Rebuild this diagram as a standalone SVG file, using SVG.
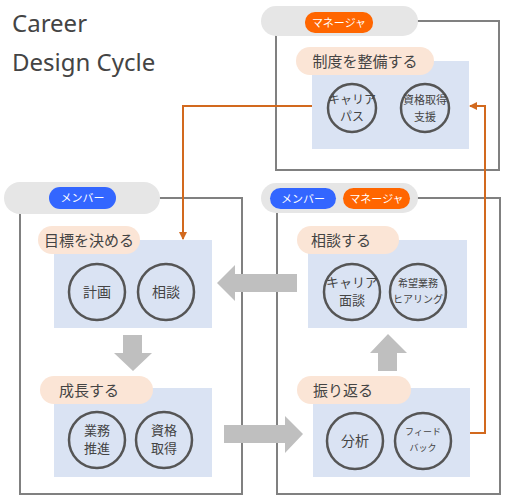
<svg xmlns="http://www.w3.org/2000/svg" width="506" height="500" viewBox="0 0 506 500">
<style>
text{font-family:"Noto Sans","Noto Sans CJK JP",sans-serif;fill:#444;text-anchor:middle}
.frame{fill:none;stroke:#808080;stroke-width:2}
.pill{fill:#e6e6e6}
.bo{fill:#ff6600}
.bb{fill:#3366ff}
.badge{fill:#fff;font-size:11px}
.panel{fill:#dae3f3}
.lab{fill:#fbe5d6}
.labt{font-size:15px}
.c{fill:none;stroke:#555;stroke-width:2.5}
.ct{font-size:14px}
.gar{fill:#bfbfbf}
.con{fill:none;stroke:#d2691e;stroke-width:2}
</style>
<defs>
<marker id="ah" markerWidth="8" markerHeight="8" refX="7" refY="4" orient="auto" markerUnits="userSpaceOnUse">
<path d="M0,0 L8,4 L0,8 z" fill="#d2691e"/>
</marker>
</defs>
<g id="title">
<text x="12" y="32" style="text-anchor:start;font-size:24px;fill:#444">Career</text>
<text x="12" y="71" style="text-anchor:start;font-size:24px;fill:#444">Design Cycle</text>
</g>
<g id="manager-box">
<path class="frame" d="M400,21 H499 V170 H276 V30"/>
<rect class="pill" x="261" y="6" width="157" height="30" rx="15"/>
<rect class="bo" x="305" y="12" width="68" height="21" rx="10"/>
<text class="badge" x="339" y="26.5">マネージャ</text>
</g>
<g id="member-box">
<path class="frame" d="M150,198 H242 V494 H20 V205"/>
<rect class="pill" x="4" y="182" width="156" height="32" rx="16"/>
<rect class="bb" x="49" y="187" width="67" height="22" rx="11"/>
<text class="badge" x="82.5" y="202">メンバー</text>
</g>
<g id="both-box">
<path class="frame" d="M400,198 H500 V494 H277 V205"/>
<rect class="pill" x="261" y="183" width="157" height="30" rx="15"/>
<rect class="bb" x="270" y="188" width="66" height="21" rx="10.5"/>
<text class="badge" x="303" y="202.5">メンバー</text>
<rect class="bo" x="343" y="188" width="67" height="21" rx="10.5"/>
<text class="badge" x="376.5" y="202.5">マネージャ</text>
</g>
<g id="seido">
<rect class="panel" x="312" y="61" width="157" height="88"/>
<rect class="lab" x="296" y="47" width="138" height="28" rx="14"/>
<text class="labt" x="365" y="66.5">制度を整備する</text>
<circle class="c" cx="352" cy="108" r="24"/>
<text x="352" y="104" style="font-size:12px">キャリア</text>
<text x="352" y="121" style="font-size:12px">パス</text>
<circle class="c" cx="425" cy="108" r="24"/>
<text x="425" y="104" style="font-size:11px">資格取得</text>
<text x="425" y="121" style="font-size:11px">支援</text>
</g>
<g id="mokuhyo">
<rect class="panel" x="54" y="240" width="158" height="88"/>
<rect class="lab" x="38" y="226" width="102" height="28" rx="14"/>
<text class="labt" x="89" y="245.5">目標を決める</text>
<circle class="c" cx="97" cy="292" r="28"/>
<text class="ct" x="97" y="297">計画</text>
<circle class="c" cx="166" cy="292" r="28"/>
<text class="ct" x="166" y="297">相談</text>
</g>
<g id="sodan">
<rect class="panel" x="308" y="240" width="159" height="88"/>
<rect class="lab" x="297" y="226" width="102" height="28" rx="14"/>
<text class="labt" x="341" y="245.5">相談する</text>
<circle class="c" cx="352" cy="292" r="28"/>
<text x="352" y="287" style="font-size:13px">キャリア</text>
<text x="352" y="305" style="font-size:13px">面談</text>
<circle class="c" cx="418" cy="292" r="28"/>
<text x="418" y="287" style="font-size:10px">希望業務</text>
<text x="418" y="303" style="font-size:10px">ヒアリング</text>
</g>
<g id="seicho">
<rect class="panel" x="54" y="388" width="158" height="89"/>
<rect class="lab" x="40" y="376" width="113" height="28" rx="14"/>
<text class="labt" x="89" y="395.5">成長する</text>
<circle class="c" cx="97" cy="440" r="28"/>
<text x="97" y="435" style="font-size:13px">業務</text>
<text x="97" y="453" style="font-size:13px">推進</text>
<circle class="c" cx="164" cy="440" r="28"/>
<text x="164" y="435" style="font-size:13px">資格</text>
<text x="164" y="453" style="font-size:13px">取得</text>
</g>
<g id="furikaeru">
<rect class="panel" x="313" y="388" width="157" height="89"/>
<rect class="lab" x="297" y="376" width="114" height="28" rx="14"/>
<text class="labt" x="343" y="395.5">振り返る</text>
<circle class="c" cx="355" cy="441" r="28"/>
<text class="ct" x="355" y="446">分析</text>
<circle class="c" cx="423" cy="441" r="28"/>
<text x="423" y="435" style="font-size:9px">フィード</text>
<text x="423" y="451" style="font-size:9px">バック</text>
</g>
<g id="connectors">
<path class="gar" d="M297,274 V292 H235 V301 L217,283 L235,265 V274 z"/>
<path class="gar" d="M123,335 H142 V353 H152 L133,371 L114,353 H123 z"/>
<path class="gar" d="M224,425 H285 V416 L303,434 L285,453 V443 H224 z"/>
<path class="gar" d="M378,371 H397 V353 H407 L388,334 L370,353 H378 z"/>
<path class="con" d="M312,106 H183 V239" marker-end="url(#ah)"/>
<path class="con" d="M470,433 H485 V106 H470" marker-end="url(#ah)"/>
</g>
</svg>
